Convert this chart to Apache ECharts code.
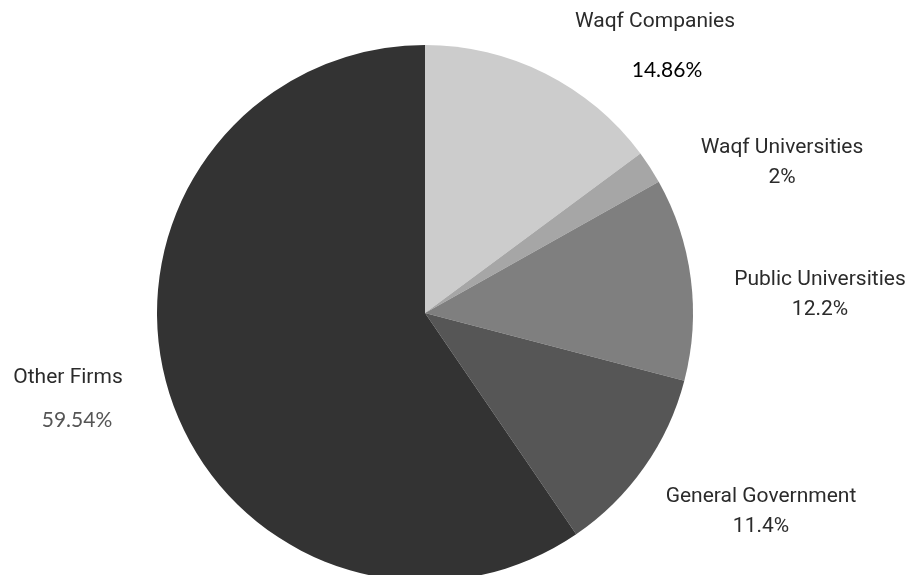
<!DOCTYPE html>
<html>
<head>
<meta charset="utf-8">
<script src="https://cdn.jsdelivr.net/npm/echarts@6/dist/echarts.min.js"></script>
<style>html,body{margin:0;padding:0;background:#fff}#c{width:908px;height:575px}</style>
</head>
<body>
<div id="c"></div>
<script>
var categories = ['Waqf Companies', 'Waqf Universities', 'Public Universities', 'General Government', 'Other Firms'];
var values = [14.86, 2, 12.2, 11.4, 59.54];
var valueLabels = ['14.86%', '2%', '12.2%', '11.4%', '59.54%'];
var colors = ['#cccccc', '#a6a6a6', '#7f7f7f', '#565656', '#333333'];
// label anchor positions (centre x, top y of the name line) and value style
var labelPos = [[655, 9, 'big'], [782, 135, 'small'], [820, 267, 'small'], [761, 484, 'small'], [68, 365, 'bigGray']];

var chart = echarts.init(document.getElementById('c'), null, {renderer: 'canvas'});
var data = categories.map(function (c, i) {
  var style = labelPos[i][2];
  return {
    name: c,
    value: values[i],
    itemStyle: {color: colors[i]},
    label: {
      formatter: '{n|' + c + '}\n{' + style + '|' + valueLabels[i] + '}'
    }
  };
});
chart.setOption({
  animation: false,
  series: [{
    type: 'pie',
    center: [425, 313],
    radius: 268,
    startAngle: 90,
    clockwise: true,
    data: data,
    itemStyle: {borderWidth: 0},
    labelLine: {show: false},
    label: {
      show: true,
      position: 'outside',
      align: 'center',
      overflow: 'none',
      bleedMargin: 0,
      rich: {
        n: {fontFamily: 'Roboto', fontSize: 21, color: '#2b2b2b', lineHeight: 26, align: 'center'},
        small: {fontFamily: 'Roboto', fontSize: 21, color: '#2b2b2b', lineHeight: 34, align: 'center'},
        big: {fontFamily: 'Lato', fontSize: 21, color: '#000000', lineHeight: 70, align: 'center', padding: [0, 0, 0, 24]},
        bigGray: {fontFamily: 'Lato', fontSize: 21, color: '#555555', lineHeight: 58, align: 'center', padding: [0, 0, 0, 18]}
      }
    },
    labelLayout: function (p) {
      var lp = labelPos[p.dataIndex];
      return {x: lp[0], y: lp[1], align: 'center', verticalAlign: 'top', hideOverlap: false, moveOverlap: false};
    }
  }]
});
</script>
</body>
</html>
